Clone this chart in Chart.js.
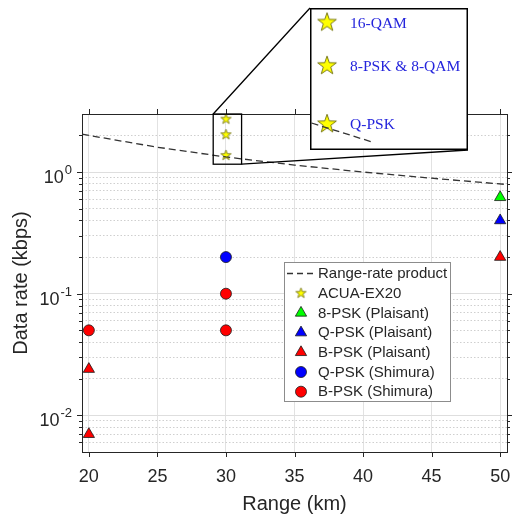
<!DOCTYPE html>
<html>
<head>
<meta charset="utf-8">
<script src="https://cdn.jsdelivr.net/npm/chart.js@4.4.1/dist/chart.umd.min.js"></script>
<style>
  html, body { margin: 0; padding: 0; background: #fff; }
  #wrap { position: relative; width: 513px; height: 518px; }
  #mainChart { position: absolute; left: 0; top: 0; }
  #insetChart { position: absolute; left: 310px; top: 8px; }
</style>
</head>
<body>
<div id="wrap">
  <canvas id="mainChart" width="513" height="518"></canvas>
  <canvas id="insetChart" width="158" height="142"></canvas>
</div>
<script>
// values
const rrRange = [19.5, 20, 25, 30, 35, 40, 45, 50.5];
const rrRate  = [2.05, 2.0, 1.6, 1.33, 1.14, 1.0, 0.89, 0.79];

const acuaRange = [30, 30, 30];
const acuaRate  = [2.72, 2.03, 1.37];
const acuaModes = ['16-QAM', '8-PSK & 8-QAM', 'Q-PSK'];

const psk8PlaisantRange = [50];
const psk8PlaisantRate  = [0.62];
const qpskPlaisantRange = [50];
const qpskPlaisantRate  = [0.4];
const bpskPlaisantRange = [20, 20, 50];
const bpskPlaisantRate  = [0.024, 0.007, 0.2];
const qpskShimuraRange = [30];
const qpskShimuraRate  = [0.2];
const bpskShimuraRange = [20, 30, 30];
const bpskShimuraRate  = [0.05, 0.1, 0.05];

// part of the range-rate line seen in the zoom box
const insetLineRange = [29.0, 33.0];
const insetLineRate  = [1.38, 1.21];

const xTicks = [20, 25, 30, 35, 40, 45, 50];
const yDecades = [0.01, 0.1, 1];
const yExponents = ['-2', '-1', '0'];

const X_MIN = 19.5, X_MAX = 50.5, Y_MIN = 0.005, Y_MAX = 3.0;
const zoomArea = { x0: 29.07, x1: 31.14, y0: 1.16, y1: 3.0 };
const insetBox = { left: 310, top: 8, width: 158, height: 142 };
const legendBox = { left: 284, top: 262, width: 166, height: 139, row: 19.7 };

const FONT = '"Liberation Sans", Arial, Helvetica, sans-serif';
const INK = '#262626';

const pts = (xs, ys) => xs.map((x, i) => ({ x: x, y: ys[i] }));
const isDecade = v => Math.abs(Math.log10(v) - Math.round(Math.log10(v))) < 1e-6;

// minor + major positions for the log axis
const yTickValues = [];
[0.001, 0.01, 0.1, 1].forEach(d => {
    for (let k = 1; k <= 9; k++) {
        const v = +(k * d).toPrecision(3);
        if (v > Y_MIN && v < Y_MAX) yTickValues.push(v);
    }
});

function makeStar(r, lw) {
    const size = Math.ceil(2 * r + 2 * lw + 2);
    const c = document.createElement('canvas');
    c.width = size; c.height = size;
    const g = c.getContext('2d');
    const cx = size / 2, cy = size / 2;
    g.beginPath();
    for (let i = 0; i < 10; i++) {
        const a = -Math.PI / 2 + i * Math.PI / 5;
        const rr = i % 2 ? r * 0.4 : r;
        g.lineTo(cx + rr * Math.cos(a), cy + rr * Math.sin(a));
    }
    g.closePath();
    g.fillStyle = '#ffff00';
    g.fill();
    g.lineWidth = lw;
    g.strokeStyle = '#6b6b10';
    g.stroke();
    return c;
}
const starSmall = makeStar(5.4, 0.8);
const starBig = makeStar(9.8, 0.9);

const marker = (label, xs, ys, style, color, r) => ({
    label: label,
    data: pts(xs, ys),
    pointStyle: style,
    pointRadius: r,
    backgroundColor: color,
    borderColor: '#1a1a1a',
    borderWidth: 0.8
});

const framePlugin = {
    id: 'frame',
    beforeDatasetsDraw(chart) {
        const { ctx, chartArea: a, scales: { x, y } } = chart;
        ctx.save();
        ctx.strokeStyle = INK;
        ctx.lineWidth = 1;
        ctx.beginPath();
        xTicks.forEach(v => {
            const px = Math.round(x.getPixelForValue(v)) + 0.5;
            ctx.moveTo(px, a.bottom); ctx.lineTo(px, a.bottom + 5);
            ctx.moveTo(px, a.top); ctx.lineTo(px, a.top - 5);
        });
        yTickValues.forEach(v => {
            const py = Math.round(y.getPixelForValue(v)) + 0.5;
            const len = isDecade(v) ? 5 : 3;
            ctx.moveTo(a.left, py); ctx.lineTo(a.left - len, py);
            ctx.moveTo(a.right, py); ctx.lineTo(a.right + len, py);
        });
        ctx.stroke();
        ctx.strokeRect(Math.round(a.left) + 0.5, Math.round(a.top) + 0.5,
            Math.round(a.right - a.left), Math.round(a.bottom - a.top));

        // y tick labels as 10 with a raised exponent
        ctx.fillStyle = INK;
        ctx.textAlign = 'right';
        ctx.textBaseline = 'alphabetic';
        yDecades.forEach((v, i) => {
            const py = y.getPixelForValue(v);
            const rx = a.left - 10;
            ctx.font = '13px ' + FONT;
            const ew = ctx.measureText(yExponents[i]).width;
            ctx.fillText(yExponents[i], rx, py + 2);
            ctx.font = '18px ' + FONT;
            ctx.fillText('10', rx - ew - 1, py + 11);
        });
        ctx.restore();
    },
    afterDatasetsDraw(chart) {
        const { ctx, scales: { x, y } } = chart;
        ctx.save();
        // zoom box and its connectors to the inset
        const l = x.getPixelForValue(zoomArea.x0), r = x.getPixelForValue(zoomArea.x1);
        const t = y.getPixelForValue(zoomArea.y1), b = y.getPixelForValue(zoomArea.y0);
        ctx.strokeStyle = '#000';
        ctx.lineWidth = 1.3;
        ctx.strokeRect(l, t, r - l, b - t);
        ctx.beginPath();
        ctx.moveTo(l, t); ctx.lineTo(insetBox.left, insetBox.top);
        ctx.moveTo(r, b); ctx.lineTo(insetBox.left + insetBox.width, insetBox.top + insetBox.height);
        ctx.stroke();

        // legend
        const L = legendBox;
        ctx.fillStyle = '#fff';
        ctx.fillRect(L.left, L.top, L.width, L.height);
        ctx.strokeStyle = '#8c8c8c';
        ctx.lineWidth = 1;
        ctx.strokeRect(L.left + 0.5, L.top + 0.5, L.width, L.height);
        ctx.font = '15px ' + FONT;
        ctx.textAlign = 'left';
        ctx.textBaseline = 'middle';
        chart.data.datasets.forEach((ds, i) => {
            const cy = L.top + 11.5 + i * L.row;
            const mx = L.left + 17;
            if (ds.showLine) {
                ctx.save();
                ctx.strokeStyle = ds.borderColor;
                ctx.lineWidth = ds.borderWidth;
                ctx.setLineDash([6, 4]);
                ctx.beginPath();
                ctx.moveTo(L.left + 3, cy); ctx.lineTo(L.left + 32, cy);
                ctx.stroke();
                ctx.restore();
            } else {
                ctx.fillStyle = ds.backgroundColor;
                ctx.strokeStyle = ds.borderColor;
                ctx.lineWidth = ds.borderWidth;
                Chart.helpers.drawPoint(ctx, {
                    pointStyle: ds.pointStyle, radius: ds.pointRadius,
                    borderWidth: ds.borderWidth, rotation: 0
                }, mx, cy);
            }
            ctx.fillStyle = INK;
            ctx.fillText(ds.label, L.left + 34, cy + 0.5);
        });
        ctx.restore();
    }
};

new Chart(document.getElementById('mainChart'), {
    type: 'scatter',
    data: {
        datasets: [
            {
                label: 'Range-rate product',
                data: pts(rrRange, rrRate),
                showLine: true,
                borderColor: '#333333',
                borderWidth: 1.3,
                borderDash: [7, 4],
                pointRadius: 0
            },
            marker('ACUA-EX20', acuaRange, acuaRate, starSmall, '#ffff00', 5),
            marker('8-PSK (Plaisant)', psk8PlaisantRange, psk8PlaisantRate, 'triangle', '#00ff00', 6.5),
            marker('Q-PSK (Plaisant)', qpskPlaisantRange, qpskPlaisantRate, 'triangle', '#0000ff', 6.5),
            marker('B-PSK (Plaisant)', bpskPlaisantRange, bpskPlaisantRate, 'triangle', '#ff0000', 6.5),
            marker('Q-PSK (Shimura)', qpskShimuraRange, qpskShimuraRate, 'circle', '#0000ff', 5.5),
            marker('B-PSK (Shimura)', bpskShimuraRange, bpskShimuraRate, 'circle', '#ff0000', 5.5)
        ]
    },
    options: {
        responsive: false,
        animation: false,
        layout: { autoPadding: false, padding: { top: 114, right: 6, left: 0, bottom: 0 } },
        plugins: { legend: { display: false }, tooltip: { enabled: false } },
        scales: {
            x: {
                type: 'linear',
                min: X_MIN,
                max: X_MAX,
                afterBuildTicks: s => { s.ticks = xTicks.map(v => ({ value: v })); },
                afterFit: s => { s.height = 66; s.paddingLeft = 0; s.paddingRight = 0; },
                grid: { color: '#e2e2e2', drawTicks: false },
                border: { display: false },
                ticks: {
                    padding: 14, color: INK, autoSkip: false, maxRotation: 0,
                    font: { family: FONT, size: 18 }
                },
                title: {
                    display: true, text: 'Range (km)', color: INK,
                    font: { family: FONT, size: 20 }, padding: { top: 0, bottom: 2 }
                }
            },
            y: {
                type: 'logarithmic',
                min: Y_MIN,
                max: Y_MAX,
                afterBuildTicks: s => { s.ticks = yTickValues.map(v => ({ value: v, major: isDecade(v) })); },
                afterFit: s => { s.width = 82; s.paddingTop = 0; s.paddingBottom = 0; },
                grid: {
                    drawTicks: false,
                    color: c => (c.tick && isDecade(c.tick.value)) ? '#dedede' : '#cfcfcf'
                },
                border: {
                    display: false,
                    dash: c => (c.tick && !isDecade(c.tick.value)) ? [1.5, 2] : []
                },
                ticks: { display: false },
                title: {
                    display: true, text: 'Data rate (kbps)', color: INK,
                    font: { family: FONT, size: 20 }, padding: { top: 9, bottom: 0 }
                }
            }
        }
    },
    plugins: [framePlugin]
});

// zoomed view of the ACUA-EX20 points
const insetPlugin = {
    id: 'insetFrame',
    beforeDraw(chart) {
        const { ctx, width, height } = chart;
        ctx.save();
        ctx.fillStyle = '#fff';
        ctx.fillRect(0, 0, width, height);
        ctx.restore();
    },
    afterDraw(chart) {
        const { ctx, width, height, scales: { x, y } } = chart;
        ctx.save();
        ctx.font = '15.5px "Liberation Serif", "Times New Roman", serif';
        ctx.fillStyle = '#2424dc';
        ctx.textAlign = 'left';
        ctx.textBaseline = 'middle';
        acuaModes.forEach((m, i) => {
            ctx.fillText(m, x.getPixelForValue(acuaRange[i]) + 23, y.getPixelForValue(acuaRate[i]) + 1);
        });
        ctx.strokeStyle = '#000';
        ctx.lineWidth = 1.5;
        ctx.strokeRect(0.75, 0.75, width - 1.5, height - 1.5);
        ctx.restore();
    }
};

new Chart(document.getElementById('insetChart'), {
    type: 'scatter',
    data: {
        datasets: [
            {
                data: pts(insetLineRange, insetLineRate),
                showLine: true,
                borderColor: '#333333',
                borderWidth: 1.3,
                borderDash: [7, 4],
                pointRadius: 0
            },
            {
                data: pts(acuaRange, acuaRate),
                pointStyle: starBig,
                pointRadius: 9
            }
        ]
    },
    options: {
        responsive: false,
        animation: false,
        layout: { autoPadding: false, padding: 0 },
        plugins: { legend: { display: false }, tooltip: { enabled: false } },
        scales: {
            x: { type: 'linear', min: 28.9, max: 39.1, display: false },
            y: { type: 'logarithmic', min: 1.15, max: 3.0, display: false }
        }
    },
    plugins: [insetPlugin]
});
</script>
</body>
</html>
